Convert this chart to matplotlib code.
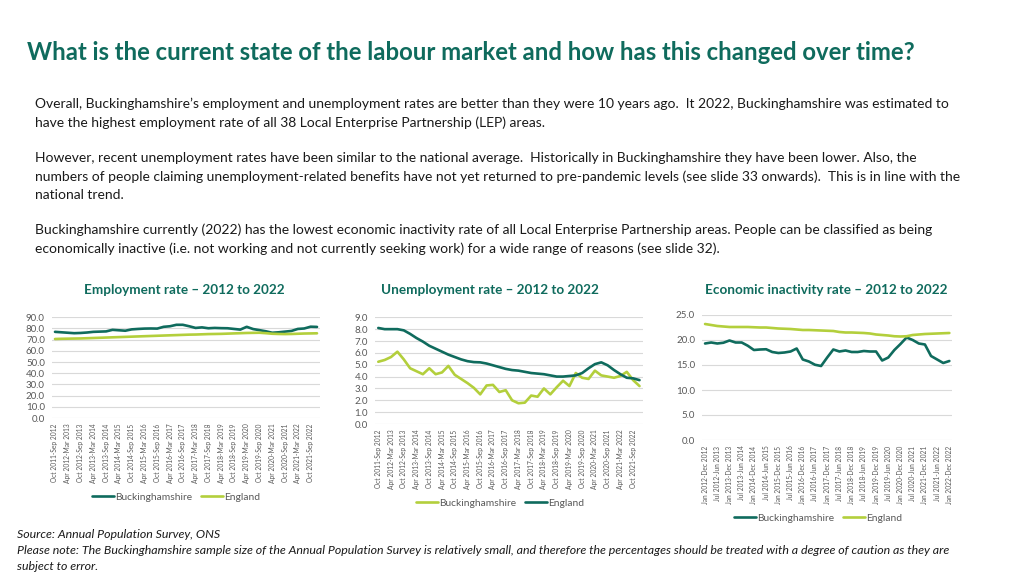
import numpy as np
import matplotlib.pyplot as plt

plt.rcParams['font.family'] = ['Lato', 'DejaVu Sans']

DARK = '#0F6B5D'
LIGHT = '#B3CF3C'
GRID = '#D9D9D9'
TICK = '#595959'

W, H = 1024, 576

# ---- data ----
def rolling_labels(start_year, start_month, n):
    months = ['Jan', 'Feb', 'Mar', 'Apr', 'May', 'Jun', 'Jul', 'Aug', 'Sep', 'Oct', 'Nov', 'Dec']
    out = []
    y, m = start_year, start_month
    for _ in range(n):
        em = (m + 11) % 12
        ey = y + 1 if m != 0 else y
        out.append(f"{months[m]} {y}-{months[em]} {ey}")
        m += 3
        if m >= 12:
            m -= 12
            y += 1
    return out

periods_emp = rolling_labels(2011, 9, 42)   # Oct 2011-Sep 2012 .. Jan 2022-Dec 2022
periods_inact = rolling_labels(2012, 0, 41)  # Jan 2012-Dec 2012 .. Jan 2022-Dec 2022

emp_bucks = [77.0, 76.6, 76.2, 75.8, 76.0, 76.4, 77.0, 77.2, 77.4, 78.8, 78.4, 78.0,
             79.2, 79.6, 79.9, 80.0, 79.9, 81.5, 82.0, 83.3, 83.3, 82.0, 80.5, 81.0,
             80.2, 80.5, 80.3, 80.2, 79.6, 79.0, 81.5, 79.5, 78.5, 77.5, 76.2, 76.6,
             77.2, 77.8, 79.6, 80.0, 81.6, 81.4]
emp_eng = [70.6, 70.8, 70.9, 71.0, 71.1, 71.3, 71.5, 71.7, 71.9, 72.1, 72.3, 72.5,
           72.7, 72.9, 73.1, 73.3, 73.5, 73.7, 73.9, 74.1, 74.3, 74.5, 74.6, 74.8,
           75.0, 75.1, 75.2, 75.4, 75.6, 75.8, 76.0, 76.1, 76.2, 75.8, 75.3, 75.1,
           75.0, 75.1, 75.3, 75.5, 75.6, 75.7]

unemp_bucks = [5.25, 5.4, 5.65, 6.1, 5.45, 4.7, 4.45, 4.2, 4.7, 4.2, 4.35, 4.9,
               4.15, 3.8, 3.45, 3.05, 2.5, 3.25, 3.3, 2.7, 2.85, 2.0, 1.75, 1.8,
               2.4, 2.3, 3.0, 2.5, 3.1, 3.65, 3.2, 4.3, 3.9, 3.8, 4.5, 4.1,
               4.0, 3.9, 4.05, 4.4, 3.7, 3.2]
unemp_eng = [8.1, 8.0, 8.0, 8.0, 7.9, 7.6, 7.25, 6.95, 6.6, 6.35, 6.1, 5.85,
             5.65, 5.45, 5.3, 5.22, 5.2, 5.1, 4.95, 4.8, 4.65, 4.55, 4.5, 4.4,
             4.3, 4.25, 4.2, 4.1, 4.0, 4.0, 4.05, 4.1, 4.3, 4.7, 5.05, 5.2,
             4.95, 4.55, 4.2, 3.9, 3.85, 3.7]

inact_bucks = [19.3, 19.5, 19.3, 19.45, 19.9, 19.5, 19.5, 18.85, 18.0, 18.1, 18.15,
               17.6, 17.4, 17.5, 17.7, 18.3, 16.1, 15.7, 15.05, 14.8, 16.5, 18.1,
               17.7, 17.9, 17.6, 17.6, 17.8, 17.7, 17.7, 15.9, 16.5, 18.0, 19.2,
               20.5, 20.0, 19.3, 19.1, 16.8, 16.1, 15.4, 15.8]
inact_eng = [23.2, 23.0, 22.8, 22.7, 22.6, 22.6, 22.6, 22.6, 22.55, 22.5, 22.5,
             22.4, 22.3, 22.25, 22.2, 22.1, 22.0, 22.0, 21.95, 21.9, 21.85, 21.8,
             21.6, 21.5, 21.5, 21.45, 21.4, 21.3, 21.1, 21.0, 20.9, 20.75, 20.7,
             20.75, 21.0, 21.1, 21.2, 21.25, 21.3, 21.35, 21.4]

title = "What is the current state of the labour market and how has this changed over time?"
body = [
    (104, "Overall, Buckinghamshire\u2019s employment and unemployment rates are better than they were 10 years ago.  It 2022, Buckinghamshire was estimated to"),
    (123, "have the highest employment rate of all 38 Local Enterprise Partnership (LEP) areas."),
    (158, "However, recent unemployment rates have been similar to the national average.  Historically in Buckinghamshire they have been lower. Also, the"),
    (177, "numbers of people claiming unemployment-related benefits have not yet returned to pre-pandemic levels (see slide 33 onwards).  This is in line with the"),
    (195, "national trend."),
    (230, "Buckinghamshire currently (2022) has the lowest economic inactivity rate of all Local Enterprise Partnership areas. People can be classified as being"),
    (249, "economically inactive (i.e. not working and not currently seeking work) for a wide range of reasons (see slide 32)."),
]
notes = [
    (534, "Source: Annual Population Survey, ONS"),
    (550, "Please note: The Buckinghamshire sample size of the Annual Population Survey is relatively small, and therefore the percentages should be treated with a degree of caution as they are"),
    (566, "subject to error."),
]

fig = plt.figure(figsize=(W / 100, H / 100), dpi=100)

def ftext(x, y, s, **kw):
    fig.text(x / W, 1 - y / H, s, **kw)

ftext(27, 53, title, fontsize=17.2, fontweight='bold', color=DARK, va='center')
for y, s in body:
    ftext(35, y, s, fontsize=10.0, color='#1A1A1A', va='center')
for y, s in notes:
    ftext(17, y, s, fontsize=8.95, color='#1A1A1A', va='center', style='italic')


def make_chart(x0, x1, ytop, ybot, labels, first, second, ymax, ystep,
               title_txt, title_x, leg_x, leg_y):
    ax = fig.add_axes([x0 / W, 1 - ybot / H, (x1 - x0) / W, (ybot - ytop) / H])
    n = len(labels)
    xs = np.arange(n)
    (l1, v1, c1), (l2, v2, c2) = first, second
    ax.plot(xs, v1, color=c1, lw=1.9, label=l1, solid_capstyle='round')
    ax.plot(xs, v2, color=c2, lw=1.9, label=l2, solid_capstyle='round')
    ax.set_xlim(-0.5, n - 0.5)
    ax.set_ylim(0, ymax)
    ax.set_yticks(np.arange(0, ymax + 0.01, ystep))
    ax.set_yticklabels([f"{v:.1f}" for v in np.arange(0, ymax + 0.01, ystep)])
    ax.set_xticks(xs[::2])
    ax.set_xticklabels(labels[::2], rotation=90, fontsize=4.8, color=TICK)
    ax.tick_params(axis='both', length=0, colors=TICK)
    ax.tick_params(axis='y', labelsize=7, pad=5)
    ax.tick_params(axis='x', pad=4)
    for sp in ax.spines.values():
        sp.set_visible(False)
    ax.grid(axis='y', color=GRID, lw=0.8)
    ax.set_axisbelow(True)
    ax.set_facecolor('none')
    ftext(title_x, 290, title_txt, fontsize=9.7, fontweight='bold', color=DARK,
          ha='center', va='center')
    ax.legend(loc='center', bbox_to_anchor=(leg_x / W, 1 - leg_y / H),
              bbox_transform=fig.transFigure, ncol=2, frameon=False,
              fontsize=7.4, handlelength=2.2, columnspacing=0.8, handletextpad=0.1,
              labelcolor=TICK)
    return ax


make_chart(51.8, 320.2, 317.3, 418, periods_emp,
           ('Buckinghamshire', emp_bucks, DARK), ('England', emp_eng, LIGHT),
           90, 10, "Employment rate \u2013 2012 to 2022", 184, 176, 497)
make_chart(375.1, 642.7, 317.3, 424, periods_emp,
           ('Buckinghamshire', unemp_bucks, LIGHT), ('England', unemp_eng, DARK),
           9, 1, "Unemployment rate \u2013 2012 to 2022", 490, 500, 503)
make_chart(702, 952.4, 315, 440, periods_inact,
           ('Buckinghamshire', inact_bucks, DARK), ('England', inact_eng, LIGHT),
           25, 5, "Economic inactivity rate \u2013 2012 to 2022", 826, 818, 518)

fig.savefig('out.png', dpi=100)
